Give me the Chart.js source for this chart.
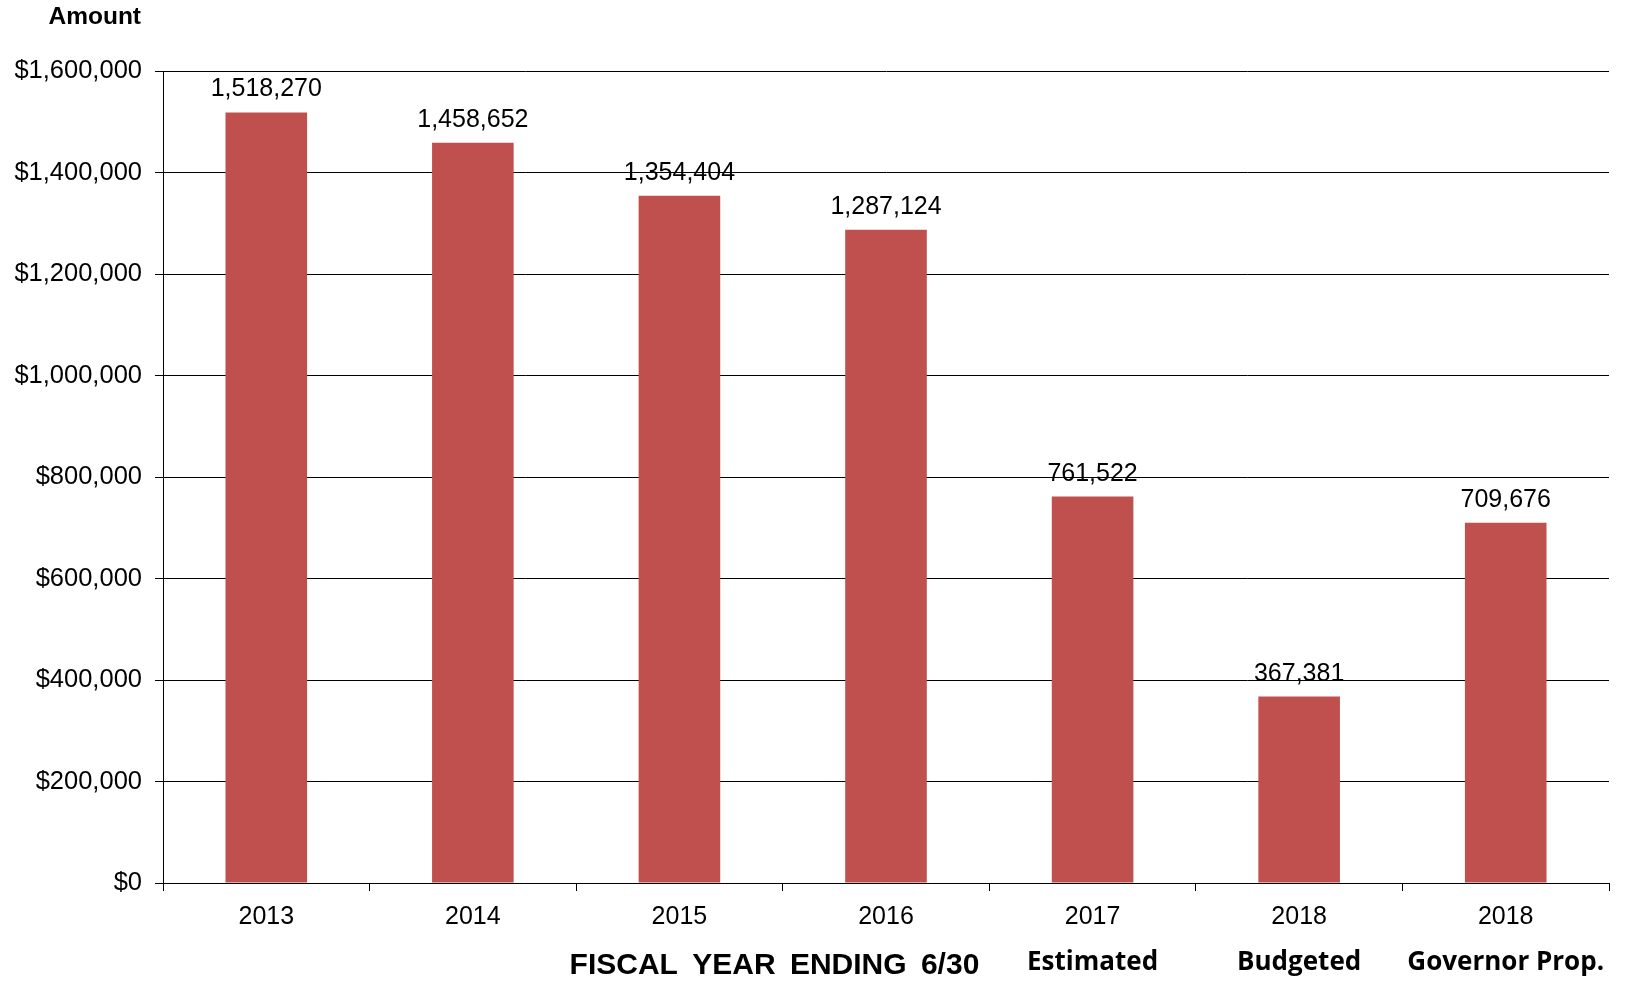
<!DOCTYPE html>
<html>
<head>
<meta charset="utf-8">
<title>Amount by fiscal year</title>
<script src="https://cdn.jsdelivr.net/npm/chart.js@4"></script>
<style>
  html, body { margin: 0; padding: 0; background: #fff; }
  #contenedor { width: 1632px; height: 981px; }
</style>
</head>
<body>
<div id="contenedor"><canvas id="grafico"></canvas></div>
<script>
// Datos
const anios = ['2013', '2014', '2015', '2016', '2017', '2018', '2018'];
const subtitulos = ['', '', '', '', 'Estimated', 'Budgeted', 'Governor Prop.'];
const montos = [1518270, 1458652, 1354404, 1287124, 761522, 367381, 709676];
const marcasY = [0, 200000, 400000, 600000, 800000, 1000000, 1200000, 1400000, 1600000];

const rojo = '#C0504D';
const fuenteArial = '"Liberation Sans", Arial, sans-serif';

// Plugin para las etiquetas de valores y textos extra
const textosExtra = {
  id: 'textosExtra',
  afterDatasetsDraw(chart) {
    const { ctx, chartArea, scales: { x } } = chart;
    const meta = chart.getDatasetMeta(0);
    ctx.save();
    ctx.fillStyle = '#000';

    // Valores encima de cada barra
    ctx.font = '25px ' + fuenteArial;
    ctx.textAlign = 'center';
    ctx.textBaseline = 'alphabetic';
    meta.data.forEach((barra, i) => {
      ctx.fillText(montos[i].toLocaleString('en-US'), barra.x, barra.y - 16);
    });

    // Titulo del eje Y
    ctx.font = 'bold 24.5px ' + fuenteArial;
    ctx.textAlign = 'right';
    ctx.textBaseline = 'middle';
    ctx.fillText('Amount', chartArea.left - 22, 17);

    // Texto del eje X
    ctx.font = 'bold 30px ' + fuenteArial;
    ctx.textAlign = 'center';
    ctx.wordSpacing = '6px';
    ctx.fillText('FISCAL YEAR ENDING 6/30', x.getPixelForValue(2.46), 966);
    ctx.wordSpacing = '0px';

    // Subtitulos por categoria
    ctx.font = 'bold 26px "Open Sans", sans-serif';
    subtitulos.forEach((texto, i) => {
      if (texto) ctx.fillText(texto, x.getPixelForValue(i), 963);
    });
    ctx.restore();
  }
};

const main = () => {
  const canvas = document.querySelector('#grafico');
  new Chart(canvas, {
    type: 'bar',
    data: {
      labels: anios,
      datasets: [{
        data: montos,
        backgroundColor: rojo,
        borderWidth: 0,
        barPercentage: 0.395,
        categoryPercentage: 1
      }]
    },
    options: {
      responsive: true,
      maintainAspectRatio: false,
      animation: false,
      layout: { padding: { top: 71, right: 23, left: 0, bottom: 0 } },
      plugins: {
        legend: { display: false },
        tooltip: { enabled: false }
      },
      scales: {
        x: {
          afterFit(scale) { scale.height = 98; },
          grid: { drawOnChartArea: false, drawTicks: true, tickLength: 8, color: '#000' },
          border: { display: true, color: '#000', width: 1 },
          ticks: { color: '#000', padding: 11, font: { family: fuenteArial, size: 25 } }
        },
        y: {
          min: 0,
          max: 1600000,
          afterFit(scale) { scale.width = 163; },
          afterBuildTicks(scale) { scale.ticks = marcasY.map(v => ({ value: v })); },
          grid: { color: '#000', lineWidth: 1, tickLength: 8 },
          border: { display: true, color: '#000', width: 1 },
          ticks: {
            color: '#000',
            padding: 13,
            font: { family: fuenteArial, size: 25.5 },
            callback: v => '$' + v.toLocaleString('en-US')
          }
        }
      }
    },
    plugins: [textosExtra]
  });
};

main();
</script>
</body>
</html>
